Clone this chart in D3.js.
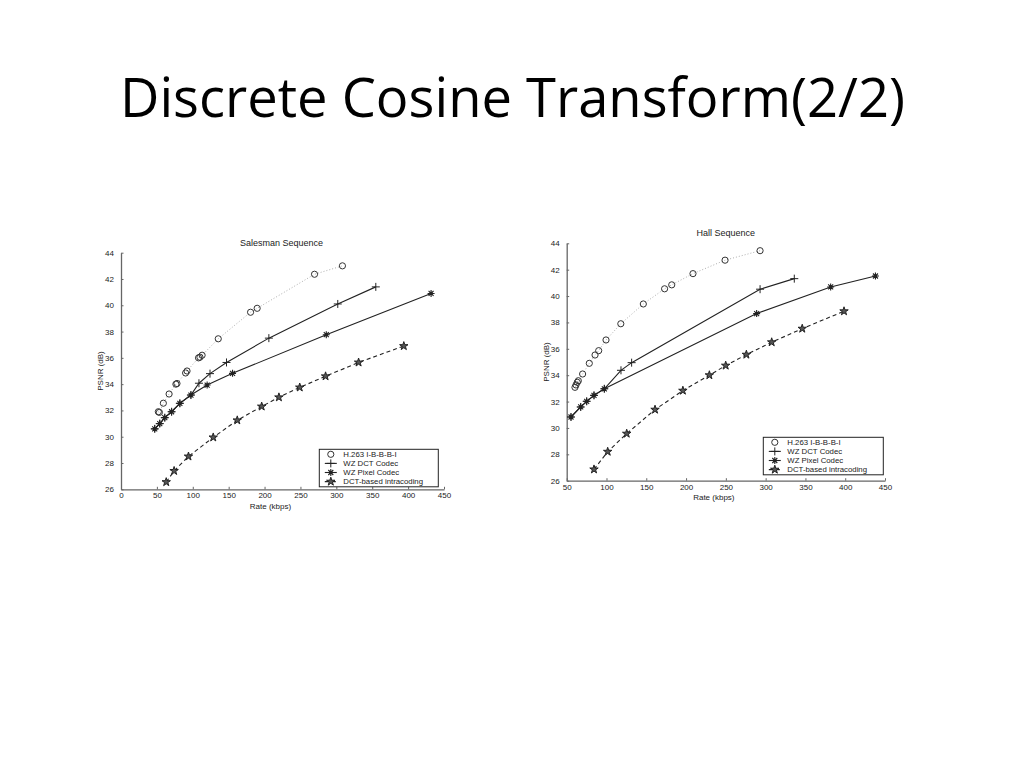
<!DOCTYPE html>
<html>
<head>
<meta charset="utf-8">
<script src="https://cdn.jsdelivr.net/npm/d3@7"></script>
<style>
  body { margin: 0; background: #fff; }
  svg text { font-family: "Liberation Sans", Arial, sans-serif; fill: #222; }
  .title { font-family: "Open Sans", sans-serif; fill: #000; }
  .tick text { font-size: 8px; }
  .tick line, .domain { stroke: #666; }
</style>
</head>
<body>
<svg width="1024" height="768"></svg>
<script>
const yTicks = [26, 28, 30, 32, 34, 36, 38, 40, 42, 44]
const salesXTicks = [0, 50, 100, 150, 200, 250, 300, 350, 400, 450]
const hallXTicks = [50, 100, 150, 200, 250, 300, 350, 400, 450]
const seriesNames = ["H.263 I-B-B-B-I", "WZ DCT Codec", "WZ Pixel Codec", "DCT-based intracoding"]

// Salesman sequence, [rate kbps, PSNR dB]
const salesH263 = [[52, 31.9], [53.5, 31.85], [59, 32.55], [67, 33.25], [76.5, 34.0], [78, 34.05],
  [90, 34.85], [92, 35.0], [108, 36.0], [110, 36.05], [113, 36.2], [135.5, 37.45],
  [180.5, 39.47], [189.7, 39.77], [269.6, 42.36], [308.5, 43.0]]
const salesDct = [[47, 30.6], [54, 31.0], [61, 31.45], [70.5, 31.9], [82, 32.54], [97.4, 33.17],
  [108.6, 34.07], [124, 34.8], [147, 35.65], [206, 37.5], [302, 40.1], [355, 41.4]]
const salesPixel = [[47, 30.6], [54, 31.0], [61, 31.45], [70.5, 31.9], [82, 32.54], [97.4, 33.17],
  [120, 33.93], [155.4, 34.82], [286, 37.76], [432, 40.9]]
const salesIntra = [[63, 26.55], [74, 27.4], [94, 28.5], [128.5, 29.95], [162, 31.25], [196, 32.3],
  [220, 33.0], [249, 33.75], [285, 34.6], [331, 35.65], [394, 36.9]]

// Hall sequence
const hallH263 = [[60.4, 33.08], [61.7, 33.26], [63.3, 33.46], [64.6, 33.58], [70, 34.09], [78.4, 34.9],
  [85.6, 35.53], [90.2, 35.86], [99.4, 36.67], [118, 37.9], [146.3, 39.4], [173, 40.55],
  [182, 40.85], [208.7, 41.7], [249, 42.72], [293, 43.44]]
const hallDct = [[55.4, 30.83], [67.6, 31.59], [75.1, 32.02], [84.3, 32.47], [97.3, 32.97],
  [118.2, 34.37], [131.6, 34.95], [293, 40.52], [336, 41.32]]
const hallPixel = [[55.4, 30.83], [67.6, 31.59], [75.1, 32.02], [84.3, 32.47], [97.3, 32.97],
  [288.7, 38.67], [381.7, 40.69], [438, 41.52]]
const hallIntra = [[84.3, 26.86], [101.5, 28.2], [125.4, 29.57], [161, 31.39], [196, 32.83],
  [229.3, 34.0], [249.8, 34.73], [275.8, 35.56], [307.6, 36.5], [346, 37.53], [398.5, 38.85]]

const svg = d3.select("svg")

svg.append("text")
  .attr("class", "title")
  .attr("x", 120)
  .attr("y", 117)
  .attr("font-size", 54)
  .attr("textLength", 785)
  .attr("lengthAdjust", "spacingAndGlyphs")
  .text("Discrete Cosine Transform(2/2)")

// marker shapes
const plusPath = "M-4,0H4M0,-4V4"
const asteriskPath = "M-3.5,0H3.5M0,-3.5V3.5M-2.5,-2.5L2.5,2.5M-2.5,2.5L2.5,-2.5"
const starPath = d3.symbol().type(d3.symbolStar).size(22)()

function drawMarker(g, kind) {
  if (kind === 0) {
    g.append("circle").attr("r", 3.1).attr("fill", "none").attr("stroke", "#333").attr("stroke-width", 1)
  } else if (kind === 1) {
    g.append("path").attr("d", plusPath).attr("stroke", "#222").attr("stroke-width", 1)
  } else if (kind === 2) {
    g.append("circle").attr("r", 1.8).attr("fill", "#222")
    g.append("path").attr("d", asteriskPath).attr("stroke", "#222").attr("stroke-width", 1.1)
  } else {
    g.append("path").attr("d", starPath).attr("fill", "#555").attr("stroke", "#222").attr("stroke-width", 1)
  }
}

const lineStyles = [
  { color: "#999", width: 0.8, dash: "1,2" },
  { color: "#222", width: 1.1, dash: null },
  { color: "#222", width: 1.1, dash: null },
  { color: "#222", width: 1.1, dash: "4,3" }
]

function drawChart(cfg) {
  const x = d3.scaleLinear().domain(cfg.xDomain).range(cfg.xRange)
  const y = d3.scaleLinear().domain([26, 44]).range(cfg.yRange)
  const g = svg.append("g")

  g.append("g")
    .attr("transform", `translate(0,${cfg.yRange[0]})`)
    .call(d3.axisBottom(x).tickValues(cfg.xTicks).tickSizeInner(-2.5).tickSizeOuter(0).tickPadding(3.5))
  g.append("g")
    .attr("transform", `translate(${cfg.xRange[0]},0)`)
    .call(d3.axisLeft(y).tickValues(yTicks).tickSizeInner(-2.5).tickSizeOuter(0).tickPadding(7))
  g.selectAll(".domain").attr("stroke-width", 1.3)

  g.append("text")
    .attr("x", (cfg.xRange[0] + cfg.xRange[1]) / 2 + cfg.titleDx)
    .attr("y", cfg.yRange[1] - 7)
    .attr("text-anchor", "middle")
    .attr("font-size", 9)
    .text(cfg.title)

  g.append("text")
    .attr("x", (cfg.xRange[0] + cfg.xRange[1]) / 2 - 12)
    .attr("y", cfg.yRange[0] + 19.5)
    .attr("text-anchor", "middle")
    .attr("font-size", 8)
    .text("Rate (kbps)")

  g.append("text")
    .attr("transform", `translate(${cfg.xRange[0] - 18},${(cfg.yRange[0] + cfg.yRange[1]) / 2}) rotate(-90)`)
    .attr("text-anchor", "middle")
    .attr("font-size", 8)
    .text("PSNR (dB)")

  const line = d3.line().x(d => x(d[0])).y(d => y(d[1]))

  cfg.series.forEach((data, i) => {
    const st = lineStyles[i]
    g.append("path")
      .datum(data)
      .attr("d", line)
      .attr("fill", "none")
      .attr("stroke", st.color)
      .attr("stroke-width", st.width)
      .attr("stroke-dasharray", st.dash)
  })

  cfg.series.forEach((data, i) => {
    g.selectAll(null)
      .data(data)
      .enter()
      .append("g")
      .attr("transform", d => `translate(${x(d[0])},${y(d[1])})`)
      .each(function () { drawMarker(d3.select(this), i) })
  })

  // legend
  const lg = g.append("g").attr("transform", `translate(${cfg.legend[0]},${cfg.legend[1]})`)
  lg.append("rect")
    .attr("width", cfg.legend[2])
    .attr("height", 37.5)
    .attr("fill", "#fff")
    .attr("stroke", "#222")
    .attr("stroke-width", 1)
  seriesNames.forEach((name, i) => {
    const row = lg.append("g").attr("transform", `translate(0,${5 + i * 9.1})`)
    const st = lineStyles[i]
    if (i > 0) {
      row.append("line")
        .attr("x1", 5.5).attr("x2", 17.5)
        .attr("stroke", st.color)
        .attr("stroke-width", st.width)
        .attr("stroke-dasharray", st.dash)
    }
    const m = row.append("g").attr("transform", "translate(11.5,0)")
    drawMarker(m, i)
    row.append("text")
      .attr("x", 24)
      .attr("y", 2.8)
      .attr("font-size", 7.8)
      .text(name)
  })
}

drawChart({
  title: "Salesman Sequence",
  xDomain: [0, 450], xRange: [121, 444], yRange: [489.3, 252.7],
  xTicks: salesXTicks, titleDx: -1,
  series: [salesH263, salesDct, salesPixel, salesIntra],
  legend: [319.3, 449.3, 119]
})

drawChart({
  title: "Hall Sequence",
  xDomain: [50, 450], xRange: [566.7, 885], yRange: [480.7, 243.3],
  xTicks: hallXTicks, titleDx: 0,
  series: [hallH263, hallDct, hallPixel, hallIntra],
  legend: [763.3, 437.3, 120]
})
</script>
</body>
</html>
